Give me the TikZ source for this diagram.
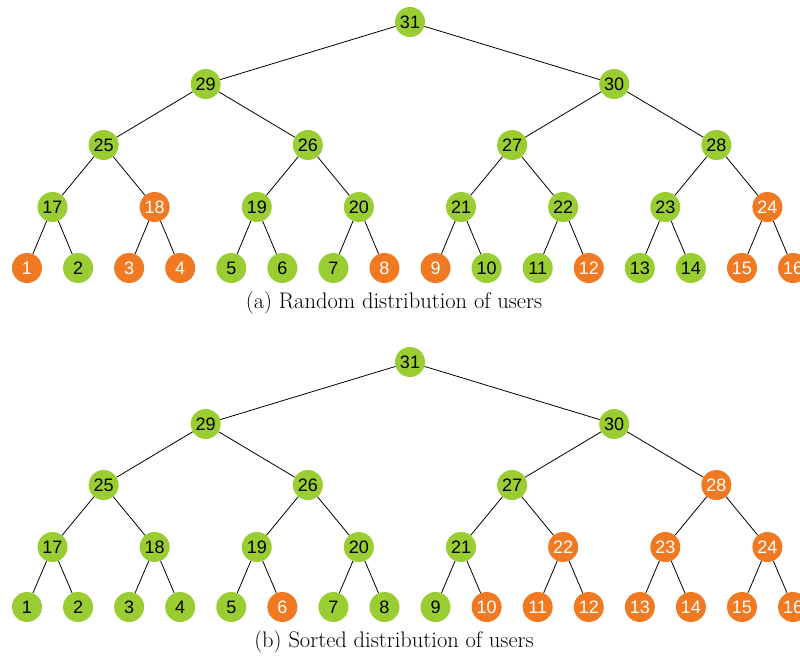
\documentclass[tikz,border=0pt]{standalone}
\usepackage{fontspec}
\newfontfamily\nodefont{Liberation Sans}
\definecolor{ngreen}{RGB}{154,205,50}
\definecolor{norange}{RGB}{240,121,34}
\begin{document}
\begin{tikzpicture}[x=1pt,y=-1pt,
  nd/.style={circle,minimum size=30pt,inner sep=0pt,font=\nodefont\fontsize{18}{18}\selectfont},
  ng/.style={nd,fill=ngreen,text=black},
  no/.style={nd,fill=norange,text=white},
  edge/.style={draw=black,line width=0.8pt},
  captext/.style={font=\fontsize{22.5}{22.5}\selectfont,anchor=center}]
\useasboundingbox (0,0) rectangle (800,657);
\clip (0,0) rectangle (800,657);
% tree (a)
\foreach \i/\s in {1/o,2/g,3/o,4/o,5/g,6/g,7/g,8/o,9/o,10/g,11/g,12/o,13/g,14/g,15/o,16/o}
  {\node[n\s] (a\i) at ({27+51.07*(\i-1)},268) {\i};}
\foreach \j/\s in {1/g,2/o,3/g,4/g,5/g,6/g,7/g,8/o}
  {\pgfmathtruncatemacro\id{16+\j}\node[n\s] (a\id) at ({52.5+102.13*(\j-1)},207) {\id};}
\foreach \j/\s in {1/g,2/g,3/g,4/g}
  {\pgfmathtruncatemacro\id{24+\j}\node[n\s] (a\id) at ({103.6+204.27*(\j-1)},145) {\id};}
\foreach \j/\s in {1/g,2/g}
  {\pgfmathtruncatemacro\id{28+\j}\node[n\s] (a\id) at ({205.7+408.5*(\j-1)},84) {\id};}
\node[ng] (a31) at (410,22) {31};
% tree (b)
\foreach \i/\s in {1/g,2/g,3/g,4/g,5/g,6/o,7/g,8/g,9/g,10/o,11/o,12/o,13/o,14/o,15/o,16/o}
  {\node[n\s] (b\i) at ({27+51.07*(\i-1)},607) {\i};}
\foreach \j/\s in {1/g,2/g,3/g,4/g,5/g,6/o,7/o,8/o}
  {\pgfmathtruncatemacro\id{16+\j}\node[n\s] (b\id) at ({52.5+102.13*(\j-1)},547) {\id};}
\foreach \j/\s in {1/g,2/g,3/g,4/o}
  {\pgfmathtruncatemacro\id{24+\j}\node[n\s] (b\id) at ({103.6+204.27*(\j-1)},485) {\id};}
\foreach \j/\s in {1/g,2/g}
  {\pgfmathtruncatemacro\id{28+\j}\node[n\s] (b\id) at ({205.7+408.5*(\j-1)},424) {\id};}
\node[ng] (b31) at (410,362) {31};
% edges
\foreach \p in {17,...,31}{
  \pgfmathtruncatemacro\c{2*\p-33}
  \pgfmathtruncatemacro\d{2*\p-32}
  \draw[edge] (a\p) -- (a\c);
  \draw[edge] (a\p) -- (a\d);
  \draw[edge] (b\p) -- (b\c);
  \draw[edge] (b\p) -- (b\d);
}
% captions
\node[captext] (capa) at (394,303) {(a) Random distribution of users};
\node[captext] (capb) at (394,642) {(b) Sorted distribution of users};
\end{tikzpicture}
\end{document}
